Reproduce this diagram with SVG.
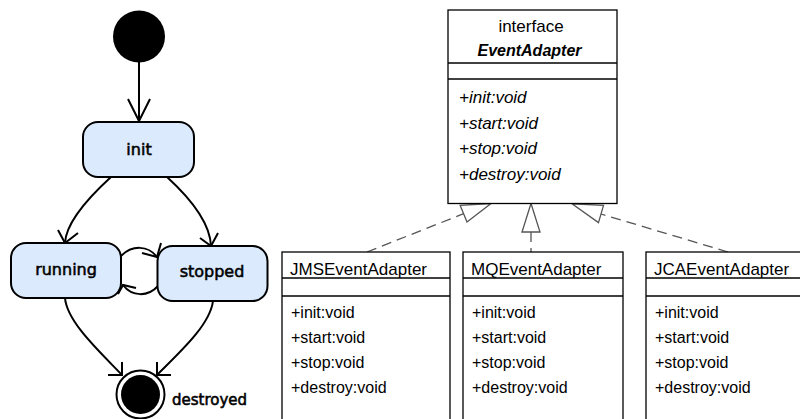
<svg xmlns="http://www.w3.org/2000/svg" width="800" height="419" viewBox="0 0 800 419">
<style>
.st{fill:#dbeafc;stroke:#000;stroke-width:2}
.stt{font-family:"DejaVu Sans",sans-serif;font-size:16px;fill:#000;stroke:#000;stroke-width:0.55;text-anchor:middle}
.tr{fill:none;stroke:#000;stroke-width:2}
.cls{fill:#fff;stroke:#000;stroke-width:1.3}
.ct{font-family:"Liberation Sans",Arial,sans-serif;font-size:17px;fill:#000}
.mt{font-family:"Liberation Sans",Arial,sans-serif;font-size:16px;fill:#000}
.it{font-family:"Liberation Sans",Arial,sans-serif;font-size:17px;font-style:italic;fill:#000}
.dash{fill:none;stroke:#555;stroke-width:1.3;stroke-dasharray:10,6}
.tri{fill:#fff;stroke:#555;stroke-width:1.3}
</style>
<g id="connectors">
<line class="tr" x1="139" y1="62" x2="139" y2="121"/>
<polyline class="tr" points="128,99 139,121 150,99"/>
<path class="tr" d="M111,177 C88,198 66,222 65,243"/>
<polyline class="tr" points="58,230 65,243 78,233"/>
<path class="tr" d="M167,177 C190,198 210,222 211,246"/>
<polyline class="tr" points="200,238 211,246 218,233"/>
<path class="tr" d="M121,256 C132,245 148,245 157,257"/>
<polyline class="tr" points="142,253 157,257 161,243"/>
<path class="tr" d="M158,286 C148,297 132,297 123,285"/>
<polyline class="tr" points="136,288 123,285 118,294"/>
<path class="tr" d="M65,298 C67,322 100,352 122,375"/>
<polyline class="tr" points="108,375 122,375 122,362"/>
<path class="tr" d="M213,301 C210,325 180,352 157,375"/>
<polyline class="tr" points="157,362 157,375 171,375"/>
<line class="dash" x1="367" y1="252" x2="463.6" y2="213.7"/>
<polygon class="tri" points="460.2,205.4 467,222 491,203.5"/>
<line class="dash" x1="531" y1="232" x2="531" y2="252"/>
<polygon class="tri" points="531,203.5 522,232 540,232"/>
<line class="dash" x1="728" y1="252" x2="601" y2="214"/>
<polygon class="tri" points="598.5,222.6 603.5,205.4 572,203.8"/>
</g>
<g id="start">
<circle cx="139" cy="36.5" r="26" fill="#000"/>
</g>
<g id="init">
<rect class="st" x="83" y="122" width="111" height="55" rx="15"/>
<text class="stt" x="139" y="154.5">init</text>
</g>
<g id="running">
<rect class="st" x="11" y="243" width="110" height="55" rx="15"/>
<text class="stt" x="66" y="275">running</text>
</g>
<g id="stopped">
<rect class="st" x="157.5" y="246" width="110" height="55" rx="15"/>
<text class="stt" x="212" y="277">stopped</text>
</g>
<g id="destroyed">
<circle cx="140.5" cy="394.5" r="24" fill="#fff" stroke="#000" stroke-width="2"/>
<circle cx="140.5" cy="394.5" r="19.5" fill="#000"/>
<text class="stt" x="172" y="405" style="text-anchor:start;font-size:15px">destroyed</text>
</g>
<g id="EventAdapter">
<rect class="cls" x="448" y="10" width="169" height="193.5"/>
<line class="cls" x1="448" y1="63" x2="617" y2="63"/>
<line class="cls" x1="448" y1="79" x2="617" y2="79"/>
<text class="mt" x="531" y="32" text-anchor="middle" style="font-size:17px">interface</text>
<text class="mt" x="529.5" y="55.5" text-anchor="middle" style="font-size:16px;font-weight:bold;font-style:italic">EventAdapter</text>
<text class="it" x="459" y="103">+init:void</text>
<text class="it" x="459" y="128.5">+start:void</text>
<text class="it" x="459" y="153.5">+stop:void</text>
<text class="it" x="459" y="179.5">+destroy:void</text>
</g>
<g id="JMSEventAdapter">
<rect class="cls" x="282" y="252" width="168" height="180"/>
<line class="cls" x1="282" y1="278" x2="450" y2="278"/>
<line class="cls" x1="282" y1="296" x2="450" y2="296"/>
<text class="ct" x="290" y="275">JMSEventAdapter</text>
<text class="mt" x="291" y="318">+init:void</text>
<text class="mt" x="291" y="343">+start:void</text>
<text class="mt" x="291" y="368">+stop:void</text>
<text class="mt" x="291" y="393">+destroy:void</text>
</g>
<g id="MQEventAdapter">
<rect class="cls" x="463" y="252" width="160" height="180"/>
<line class="cls" x1="463" y1="278" x2="623" y2="278"/>
<line class="cls" x1="463" y1="296" x2="623" y2="296"/>
<text class="ct" x="471" y="275">MQEventAdapter</text>
<text class="mt" x="472" y="318">+init:void</text>
<text class="mt" x="472" y="343">+start:void</text>
<text class="mt" x="472" y="368">+stop:void</text>
<text class="mt" x="472" y="393">+destroy:void</text>
</g>
<g id="JCAEventAdapter">
<rect class="cls" x="646" y="252" width="170" height="180"/>
<line class="cls" x1="646" y1="278" x2="816" y2="278"/>
<line class="cls" x1="646" y1="296" x2="816" y2="296"/>
<text class="ct" x="654" y="275">JCAEventAdapter</text>
<text class="mt" x="655" y="318">+init:void</text>
<text class="mt" x="655" y="343">+start:void</text>
<text class="mt" x="655" y="368">+stop:void</text>
<text class="mt" x="655" y="393">+destroy:void</text>
</g>
</svg>
